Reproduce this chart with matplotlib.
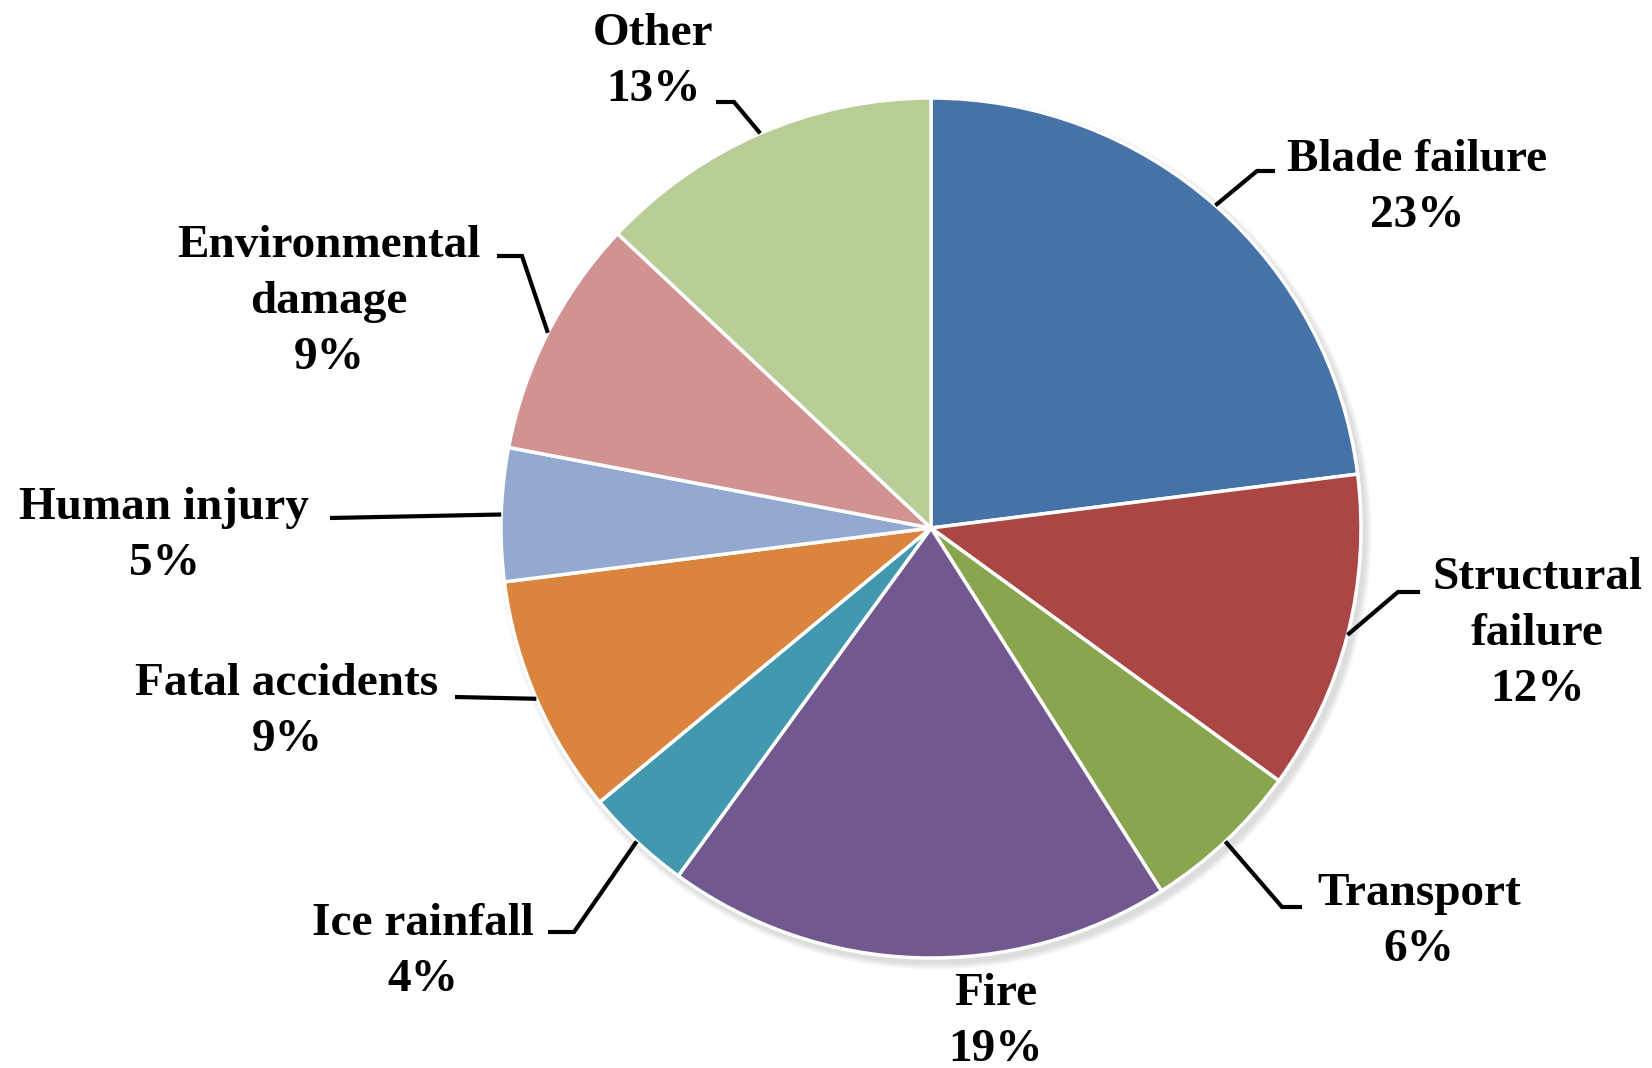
import numpy as np
import matplotlib
matplotlib.use("Agg")
import matplotlib.pyplot as plt
from matplotlib.patches import Circle

# Causes of wind-turbine accidents (share of reported incidents, %)
categories = ["Blade failure", "Structural\nfailure", "Transport", "Fire",
              "Ice rainfall", "Fatal accidents", "Human injury",
              "Environmental\ndamage", "Other"]
values = [23, 12, 6, 19, 4, 9, 5, 9, 13]
colors = ["#4572A7", "#AA4643", "#89A54E", "#71588F", "#4198AF",
          "#DB843D", "#93A9CF", "#D19392", "#B9CD96"]

W, H = 1652, 1068
fig = plt.figure(figsize=(W / 100, H / 100), dpi=100)
ax = fig.add_axes([0, 0, 1, 1])
ax.set_xlim(0, W)
ax.set_ylim(0, H)
ax.set_aspect("equal")
ax.axis("off")

cx, cy, R = 931, H - 528, 430

# soft drop shadow under the pie
for i in range(8):
    ax.add_patch(Circle((cx + 4, cy - 5), R + 1 + i * 0.8, color="#9a9a9a",
                        alpha=0.045, lw=0, zorder=0))

wedges, _ = ax.pie(values, colors=colors, startangle=90, counterclock=False,
                   center=(cx, cy), radius=R, frame=True,
                   wedgeprops=dict(edgecolor="white", linewidth=2.5))
ax.set_xlim(0, W)
ax.set_ylim(0, H)
ax.axis("off")

font = dict(family="Liberation Serif", fontweight="bold", fontsize=34,
            color="black", ha="center", va="center", linespacing=1.45)

# label block centres and leader elbows (pixel layout, y measured from top)
label_pos = [(1417, 188), (1537, 634), (1419, 922), (996, 1022), (423, 952),
             (287, 712), (164, 536), (329, 302), (653, 62)]
leaders = [[(1257, 171), (1275, 171)],
           [(1398, 592), (1420, 592)],
           [(1282, 907), (1302, 907)],
           [],
           [(574, 932), (548, 932)],
           [(455, 697)],
           [(330, 518)],
           [(522, 256), (497, 256)],
           [(734, 102), (716, 102)]]

for w, name, v, (lx, ly), pts in zip(wedges, categories, values, label_pos, leaders):
    ang = np.deg2rad((w.theta1 + w.theta2) / 2)
    sx, sy = cx + R * np.cos(ang), cy + R * np.sin(ang)
    if pts:
        xs = [sx] + [p[0] for p in pts]
        ys = [sy] + [H - p[1] for p in pts]
        ax.plot(xs, ys, color="black", lw=3.0, solid_capstyle="butt",
                solid_joinstyle="miter", zorder=3)
    ax.text(lx, H - ly, f"{name}\n{v}%", **font)

fig.savefig("out.png", dpi=100, facecolor="white")
